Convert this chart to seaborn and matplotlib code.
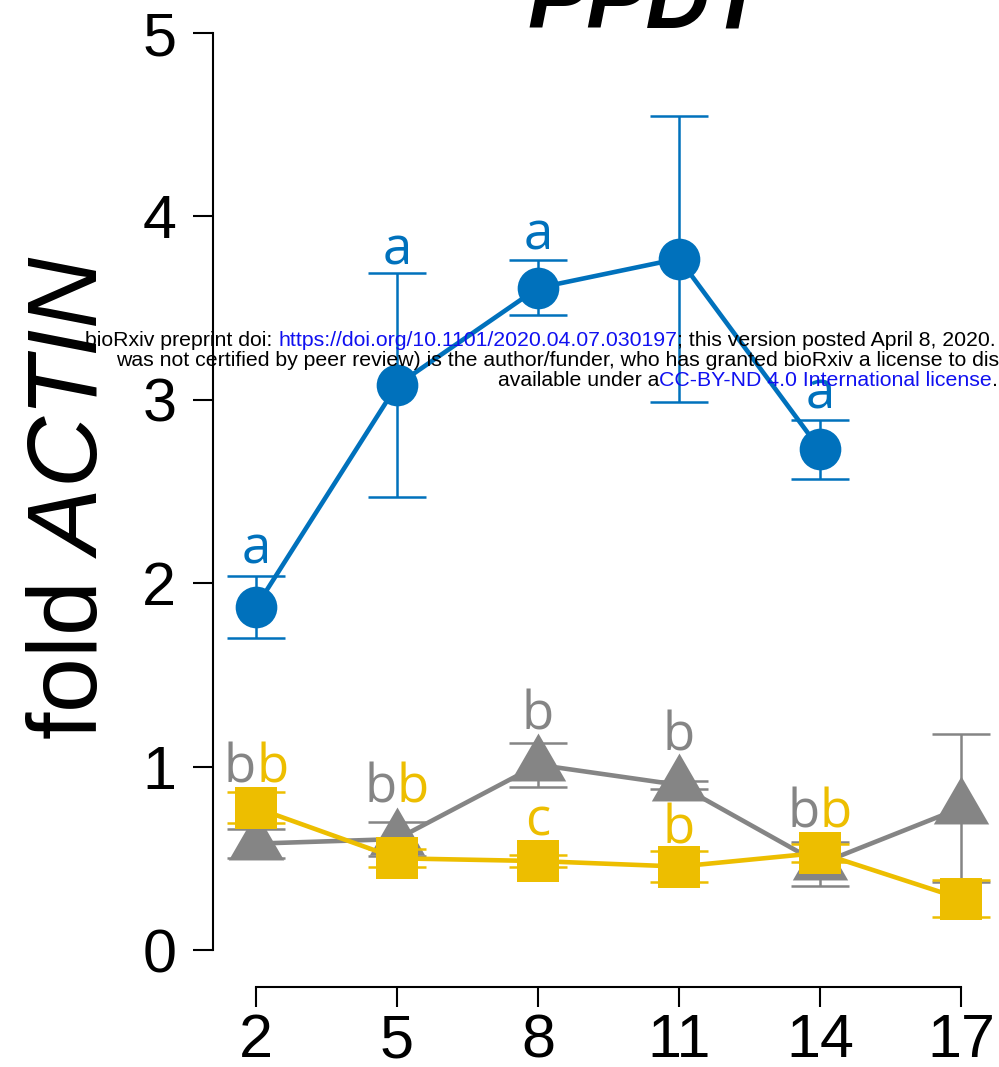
import numpy as np
import pandas as pd
import matplotlib
matplotlib.use("Agg")
import matplotlib.pyplot as plt
from matplotlib.path import Path
import seaborn as sns

# ---------------- data ----------------
days = [2, 5, 8, 11, 14, 17]

blue_mean = [1.87, 3.08, 3.61, 3.77, 2.73, np.nan]
blue_err = [0.17, 0.61, 0.15, 0.78, 0.16, np.nan]

gray_mean = [0.58, 0.605, 1.01, 0.90, 0.47, 0.775]
gray_err = [0.08, 0.095, 0.12, 0.02, 0.12, 0.405]

yellow_mean = [0.775, 0.50, 0.485, 0.455, 0.53, 0.28]
yellow_err = [0.085, 0.05, 0.035, 0.085, 0.05, 0.10]

blue_letters = ["a", "a", "a", "", "a", ""]
gray_letters = ["b", "b", "b", "b", "b", ""]
yellow_letters = ["b", "b", "c", "b", "b", ""]

# baseline (data units) of the significance letters
blue_letter_y = [2.105, 3.74, 3.82, np.nan, 2.95, np.nan]
gray_letter_y = [0.916, 0.807, 1.20, 1.09, 0.67, np.nan]
yellow_letter_y = [0.916, 0.807, 0.627, 0.583, 0.67, np.nan]

yticks = [0, 1, 2, 3, 4, 5]
title = "PPDT"

BLUE = "#0071BC"
GRAY = "#858585"
YELLOW = "#EDBE00"
LINK = "#1010F0"

# ---------------- style ----------------
sns.set_theme(style="ticks")
plt.rcParams["font.family"] = ["Liberation Sans", "DejaVu Sans"]
plt.rcParams["mathtext.fontset"] = "custom"
plt.rcParams["mathtext.rm"] = "Liberation Sans"
plt.rcParams["mathtext.it"] = "Liberation Sans:italic"

fig = plt.figure(figsize=(9.99, 10.67), dpi=100)
W, H = 999, 1067
ax = fig.add_axes([213 / W, 80 / H, 786 / W, 987 / H])

# R-like filled triangle (centroid centred)
tri = Path([(0, 1.555), (1.347, -0.777), (-1.347, -0.777), (0, 1.555)],
           [Path.MOVETO, Path.LINETO, Path.LINETO, Path.CLOSEPOLY])

series = [
    (gray_mean, gray_err, GRAY, tri, 46, 2),
    (yellow_mean, yellow_err, YELLOW, "s", 30, 4),
    (blue_mean, blue_err, BLUE, "o", 30, 6),
]

for mean, err, color, marker, ms, z in series:
    df = pd.DataFrame({"day": days, "val": mean, "err": err}).dropna()
    ax.errorbar(df["day"], df["val"], yerr=df["err"], fmt="none",
                ecolor=color, elinewidth=1.8, capsize=21, capthick=1.8,
                zorder=z)
    sns.lineplot(data=df, x="day", y="val", ax=ax, color=color,
                 linewidth=3.3, marker=marker, markersize=ms,
                 markeredgewidth=0, errorbar=None, zorder=z + 0.5)

# significance letters
lfont = dict(fontsize=38, family=["Open Sans", "DejaVu Sans"], va="baseline")
for i, d in enumerate(days):
    if blue_letters[i]:
        ax.text(d, blue_letter_y[i], blue_letters[i], color=BLUE,
                ha="center", zorder=8, **lfont)
    g, y_ = gray_letters[i], yellow_letters[i]
    paired = g and y_ and np.isclose(gray_letter_y[i], yellow_letter_y[i])
    if g:
        ax.text(d, gray_letter_y[i], g, color=GRAY,
                ha="right" if paired else "center", zorder=8, **lfont)
    if y_:
        ax.text(d, yellow_letter_y[i], y_, color=YELLOW,
                ha="left" if paired else "center", zorder=8, **lfont)

# axes
ax.set_xlim(1.085, 17.809)
ax.set_ylim(-0.2017, 5.18)
ax.set_xticks(days)
ax.set_xticklabels([str(d) for d in days])
ax.set_yticks(yticks)
ax.set_yticklabels([str(t) for t in yticks])
sns.despine(ax=ax)
ax.spines["left"].set_bounds(0, 5)
ax.spines["bottom"].set_bounds(2, 17)
for s in ("left", "bottom"):
    ax.spines[s].set_linewidth(1.5)
    ax.spines[s].set_color("black")
ax.tick_params(length=14.4, width=1.5, labelsize=44, color="black",
               labelcolor="black")
ax.tick_params(axis="y", pad=12)
ax.tick_params(axis="x", pad=4.5)
ax.set_xlabel("")
ax.set_ylabel(r"fold $\mathit{ACTIN}$", fontsize=71, va="baseline",
              color="black")
ax.yaxis.set_label_coords((97 - 213) / 786, (987 - 498) / 987)

# title (cut off at top)
fig.text(646 / W, 1 - 28 / H, title, ha="center", va="baseline",
         fontsize=64, fontweight="bold", style="italic", color="black")

# bioRxiv watermark lines
WM = 15.3

def chain(pieces, xpx, ypx, size=WM):
    t = fig.text(xpx / W, 1 - ypx / H, pieces[0][0], color=pieces[0][1],
                 fontsize=size, va="bottom", ha="left", zorder=20)
    for s, c in pieces[1:]:
        t = ax.annotate(s, xy=(1, 0), xycoords=t, va="bottom", ha="left",
                        color=c, fontsize=size, zorder=20,
                        annotation_clip=False)

def chain_right(pieces, xpx, ypx, size=WM):
    s, c = pieces[-1]
    t = fig.text(xpx / W, 1 - ypx / H, s, color=c, fontsize=size,
                 va="bottom", ha="right", zorder=20)
    for s, c in reversed(pieces[:-1]):
        t = ax.annotate(s, xy=(0, 0), xycoords=t, va="bottom", ha="right",
                        color=c, fontsize=size, zorder=20,
                        annotation_clip=False)

chain([("bioRxiv preprint doi: ", "black"),
       ("https://doi.org/10.1101/2020.04.07.030197", LINK),
       ("; this version posted April 8, 2020. The copyright holder for this preprint (which", "black")],
      85, 350)
chain([("was not certified by peer review) is the author/funder, who has granted bioRxiv a license to display the preprint in perpetuity. It is made", "black")],
      116, 370)
chain_right([("available under a", "black"),
             ("CC-BY-ND 4.0 International license", LINK),
             (".", "black")],
            998, 390)

fig.savefig("out.png", dpi=100)
